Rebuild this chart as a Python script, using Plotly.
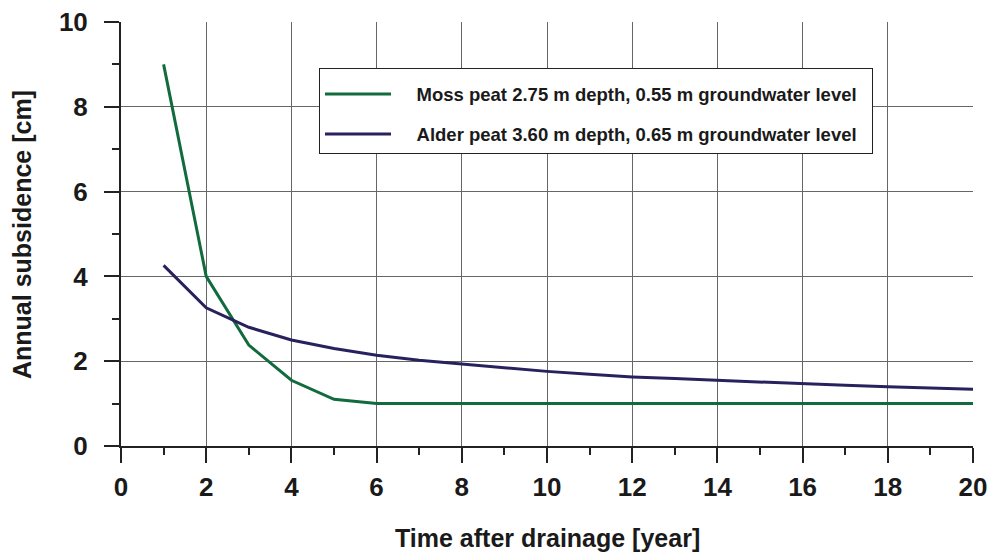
import plotly.graph_objects as go

years = list(range(1, 21))
moss = [9.0, 4.0, 2.38, 1.55, 1.1, 1.0, 1.0, 1.0, 1.0, 1.0,
        1.0, 1.0, 1.0, 1.0, 1.0, 1.0, 1.0, 1.0, 1.0, 1.0]
alder = [4.26, 3.26, 2.80, 2.50, 2.30, 2.14, 2.02, 1.93, 1.84, 1.76,
         1.69, 1.63, 1.59, 1.55, 1.50, 1.46, 1.43, 1.40, 1.37, 1.34]
names = ["Moss peat 2.75 m depth, 0.55 m groundwater level",
         "Alder peat 3.60 m depth, 0.65 m groundwater level"]
colors = ["#116b3c", "#27225e"]
x_ticks = list(range(0, 21, 2))
y_ticks = list(range(0, 11, 2))
x_title = "Time after drainage [year]"
y_title = "Annual subsidence [cm]"

font = "Liberation Sans, Arial, sans-serif"
txt = "#1a1a1a"

fig = go.Figure()
for i, (vals, name, col) in enumerate(zip([moss, alder], names, colors)):
    fig.add_trace(go.Scatter(x=years, y=vals, mode="lines",
                             name="&nbsp;&nbsp;&nbsp;&nbsp;<b>" + name + "</b>&nbsp;&nbsp;",
                             legendgroup=f"g{i}",
                             line=dict(color=col, width=3)))

axis_common = dict(
    showgrid=True, gridcolor="#666666", gridwidth=1,
    showline=True, linecolor="#222222", linewidth=2,
    ticks="outside", ticklen=15, tickwidth=1.5, tickcolor="#222222",
    tickfont=dict(family=font, size=26, color=txt),
    zeroline=False, automargin=False,
)

fig.update_xaxes(range=[0, 20], tickvals=x_ticks,
                 ticktext=[f"<b>{v}</b>" for v in x_ticks],
                 minor=dict(dtick=1, ticks="outside", ticklen=7, tickcolor="#222222", showgrid=False),
                 ticklabelstandoff=2,
                 **axis_common)
fig.update_yaxes(range=[0, 10], tickvals=y_ticks,
                 ticktext=[f"<b>{v}</b>" for v in y_ticks],
                 minor=dict(dtick=1, ticks="outside", ticklen=7, tickcolor="#222222", showgrid=False),
                 ticklabelstandoff=11,
                 **axis_common)

fig.add_annotation(text="<b>" + x_title + "</b>", xref="paper", yref="paper",
                   x=0.5, y=-0.217, xanchor="center", yanchor="middle",
                   showarrow=False, font=dict(family=font, size=25, color=txt))
fig.add_annotation(text="<b>" + y_title + "</b>", xref="paper", yref="paper",
                   x=-0.1162, y=0.5, xanchor="center", yanchor="middle", textangle=-90,
                   showarrow=False, font=dict(family=font, size=25, color=txt))

fig.update_layout(
    width=988, height=553,
    margin=dict(l=121, r=15, t=22, b=107),
    paper_bgcolor="white", plot_bgcolor="white",
    showlegend=True,
    legend=dict(x=0.2324, y=0.8915, xanchor="left", yanchor="top",
                bgcolor="white", bordercolor="#222222", borderwidth=1,
                font=dict(family=font, size=18.5, color=txt),
                title=dict(text="&nbsp;", font=dict(size=5)),
                itemwidth=66, tracegroupgap=13),
)

fig.write_html("out.html")
